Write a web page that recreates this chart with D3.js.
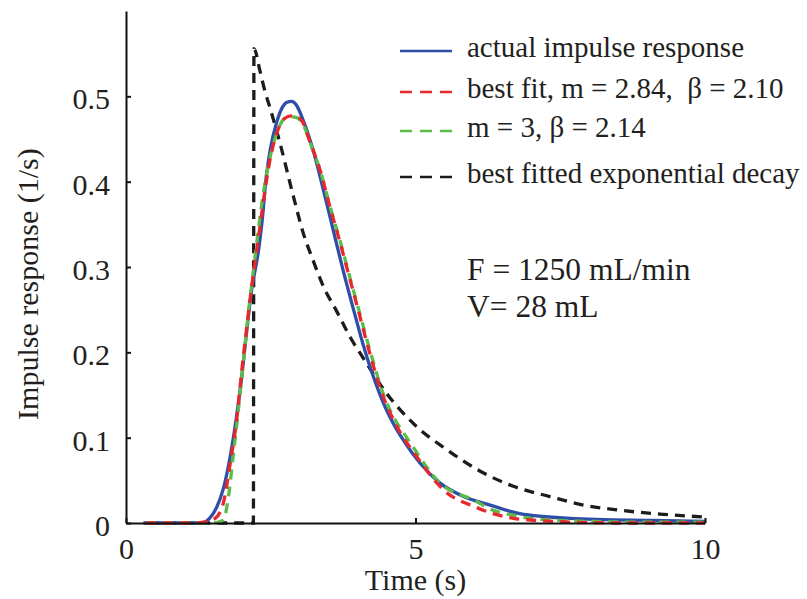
<!DOCTYPE html>
<html>
<head>
<meta charset="utf-8">
<script src="https://cdn.jsdelivr.net/npm/d3@7"></script>
<style>
  body { margin: 0; background: #fff; }
  text { font-family: "Liberation Serif", "Times New Roman", serif; fill: #231f20; }
</style>
</head>
<body>
<div id="chart-area"></div>
<script>
// series: [time (s), impulse response (1/s)]
let actualData = [
	[0.3, 0], [1.0, 0], [1.3, 0], [1.45, 0.006], [1.57, 0.019], [1.68, 0.04], [1.8, 0.078],
	[1.91, 0.125], [2.0, 0.172], [2.08, 0.222], [2.17, 0.273], [2.29, 0.32], [2.36, 0.36],
	[2.41, 0.398], [2.49, 0.437], [2.6, 0.469], [2.7, 0.487], [2.78, 0.493], [2.86, 0.494],
	[2.95, 0.489], [3.06, 0.472], [3.24, 0.435], [3.41, 0.39], [3.58, 0.343], [3.75, 0.296],
	[3.93, 0.25], [4.10, 0.208], [4.27, 0.172], [4.45, 0.14], [4.56, 0.124], [4.79, 0.097],
	[5.08, 0.070], [5.42, 0.047], [5.83, 0.031], [6.29, 0.021], [6.8, 0.011], [7.67, 0.0055],
	[9.1, 0.003], [10, 0.002]
];

let bestFitData = [
	[0.35, 0], [1.2, 0], [1.4, 0.002], [1.54, 0.0055], [1.68, 0.023], [1.8, 0.07], [1.91, 0.12],
	[2.0, 0.179], [2.08, 0.226], [2.17, 0.277], [2.26, 0.32], [2.38, 0.38], [2.5, 0.43],
	[2.62, 0.46], [2.74, 0.474], [2.85, 0.477], [2.95, 0.476], [3.05, 0.47], [3.17, 0.448],
	[3.35, 0.414], [3.52, 0.371], [3.70, 0.328], [3.87, 0.285], [4.04, 0.242], [4.21, 0.199],
	[4.39, 0.158], [4.68, 0.113], [5.02, 0.078], [5.48, 0.039], [6.06, 0.018], [6.34, 0.011],
	[6.69, 0.0055], [6.98, 0.0035], [7.7, 0.001], [8.5, 0], [10, 0]
];

let m3Data = [
	[0.35, 0], [1.5, 0], [1.6, 0.001], [1.68, 0.0035], [1.77, 0.031], [1.85, 0.078], [1.94, 0.132],
	[2.03, 0.191], [2.11, 0.245], [2.19, 0.29], [2.28, 0.34], [2.38, 0.39], [2.5, 0.432],
	[2.62, 0.46], [2.74, 0.474], [2.85, 0.476], [2.95, 0.475], [3.05, 0.468], [3.2, 0.442],
	[3.35, 0.414], [3.52, 0.372], [3.70, 0.330], [3.87, 0.287], [4.04, 0.245], [4.21, 0.203],
	[4.44, 0.152], [4.96, 0.089], [5.42, 0.047], [6.0, 0.027], [6.34, 0.015], [6.66, 0.0094],
	[6.98, 0.0055], [7.32, 0.0035], [7.9, 0.002], [9, 0.001], [10, 0.001]
];

let expDecayData = [
	[0.4, 0], [2.2, 0], [2.21, 0.556], [2.31, 0.531], [2.4, 0.506], [2.49, 0.486], [2.66, 0.445],
	[2.89, 0.383], [3.06, 0.34], [3.23, 0.308], [3.41, 0.277], [3.64, 0.248], [3.87, 0.218],
	[4.10, 0.193], [4.5, 0.152], [5.02, 0.113], [5.54, 0.086], [6.11, 0.061], [6.69, 0.043],
	[7.32, 0.031], [7.9, 0.021], [8.53, 0.015], [9.22, 0.0105], [10, 0.007]
];

let seriesNames = ["actual impulse response", "best fit, m = 2.84,  \u03b2 = 2.10",
	"m = 3, \u03b2 = 2.14", "best fitted exponential decay"];

let xTickValues = [0, 5, 10];
let xTickLabels = ["0", "5", "10"];
let yTickValues = [0, 0.1, 0.2, 0.3, 0.4, 0.5];
let yTickLabels = ["0", "0.1", "0.2", "0.3", "0.4", "0.5"];

let annotations = ["F = 1250 mL/min", "V= 28 mL"];

// styles per series
let series = [
	{data: actualData, color: "#2e4ea8", dash: null},
	{data: bestFitData, color: "#e8282c", dash: "10,7"},
	{data: m3Data, color: "#5cbc48", dash: "10,7"},
	{data: expDecayData, color: "#1c1c1c", dash: "10,7"}
];

let margin = {top: 11, right: 102, bottom: 76, left: 126};
let width = 807 - margin.left - margin.right;
let height = 599 - margin.top - margin.bottom;

let svg = d3.select("#chart-area").append("svg")
		.attr("width", 807)
		.attr("height", 599)
	.append("g")
		.attr("transform", "translate(" + margin.left + "," + margin.top + ")");

let xScale = d3.scaleLinear().domain([0, 10]).range([0, width]);
let yScale = d3.scaleLinear().domain([0, 0.6]).range([height, 0]);

// curves
let line = d3.line()
	.x(d => xScale(d[0]))
	.y(d => yScale(d[1]))
	.curve(d3.curveMonotoneX);

// draw in back-to-front order: exponential, actual, m=3, best fit on top
[3, 0, 2, 1].forEach(i => {
	svg.append("path")
		.attr("d", line(series[i].data))
		.attr("fill", "none")
		.attr("stroke", series[i].color)
		.attr("stroke-width", 3.3)
		.attr("stroke-dasharray", series[i].dash);
});

// axes, ticks pointing inward
let xAxisGroup = svg.append("g")
	.attr("transform", "translate(0," + height + ")")
	.call(d3.axisBottom(xScale)
		.tickValues(xTickValues)
		.tickFormat((d, i) => xTickLabels[i])
		.tickSizeInner(-5)
		.tickSizeOuter(0)
		.tickPadding(15));

let yAxisGroup = svg.append("g")
	.call(d3.axisLeft(yScale)
		.tickValues(yTickValues)
		.tickFormat((d, i) => yTickLabels[i])
		.tickSizeInner(-5)
		.tickSizeOuter(0)
		.tickPadding(16));

svg.selectAll(".domain").attr("stroke", "#111").attr("stroke-width", 2);
svg.selectAll(".tick line").attr("stroke", "#111").attr("stroke-width", 2);
svg.selectAll(".tick text")
	.attr("font-family", "Liberation Serif, serif")
	.attr("font-size", 30)
	.attr("fill", "#231f20");
yAxisGroup.selectAll(".tick text").attr("dy", "0.42em");

// axis titles
svg.append("text")
	.attr("x", xScale(5))
	.attr("y", height + 67)
	.attr("text-anchor", "middle")
	.attr("font-size", 30)
	.text("Time (s)");

svg.append("text")
	.attr("transform", "translate(" + (-88) + "," + yScale(0.28) + ") rotate(-90)")
	.attr("text-anchor", "middle")
	.attr("font-size", 30)
	.text("Impulse response (1/s)");

// legend
let legendRows = [46, 87, 126, 172];
let legend = svg.append("g").attr("transform", "translate(274,0)");
series.forEach((s, i) => {
	legend.append("line")
		.attr("x1", 0).attr("x2", 52)
		.attr("y1", legendRows[i] - 6).attr("y2", legendRows[i] - 6)
		.attr("stroke", s.color)
		.attr("stroke-width", 2.5)
		.attr("stroke-dasharray", s.dash ? "12,8" : null);
	legend.append("text")
		.attr("x", 67)
		.attr("y", legendRows[i])
		.attr("font-size", 29)
		.style("white-space", "pre")
		.text(seriesNames[i]);
});

// flow / volume note
annotations.forEach((t, i) => {
	svg.append("text")
		.attr("x", 341)
		.attr("y", 269 + i * 37)
		.attr("font-size", 31.5)
		.text(t);
});
</script>
</body>
</html>
